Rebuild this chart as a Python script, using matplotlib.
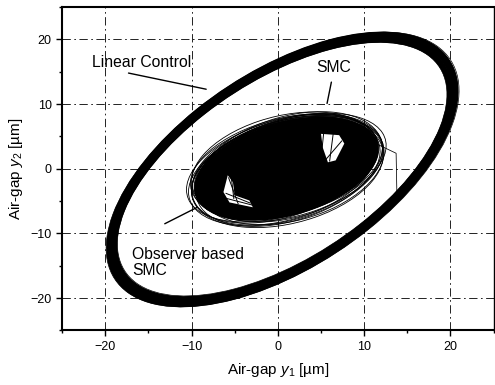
import matplotlib
matplotlib.use("Agg")
import matplotlib.pyplot as plt
from matplotlib.patches import Ellipse, Polygon
from matplotlib.ticker import MultipleLocator

plt.rcParams['font.family'] = ['Liberation Sans', 'DejaVu Sans']
plt.rcParams['mathtext.fontset'] = 'custom'
plt.rcParams['mathtext.rm'] = 'Liberation Sans'
plt.rcParams['mathtext.it'] = 'Liberation Sans:italic'
plt.rcParams['lines.scale_dashes'] = False

# axis ticks
x_ticks = [-20, -10, 0, 10, 20]
y_ticks = [-20, -10, 0, 10, 20]

# linear control: limit-cycle loops (centre, full width/height, rotation in deg)
lc_cx = [0.5, 0.5, 0.6, 0.5, 0.6, 0.5, 0.6, 0.5, 0.6, 0.5]
lc_cy = [-0.1, 0.0, -0.1, -0.2, -0.1, 0.0, -0.1, -0.2, -0.1, -0.1]
lc_w = [49.2, 49.5, 49.8, 50.1, 50.4, 50.7, 51.0, 51.3, 51.6, 51.9]
lc_h = [25.1, 25.3, 25.5, 25.7, 25.9, 26.1, 26.3, 26.5, 26.7, 26.9]
lc_ang = [46.4, 46.6, 46.5, 46.8, 46.6, 46.9, 46.7, 47.0, 46.8, 47.1]

# linear control: stray loops drawn thin
lc_thin_cx = [0.55, 0.5]
lc_thin_cy = [-0.1, -0.05]
lc_thin_w = [52.3, 48.8]
lc_thin_h = [27.2, 24.8]
lc_thin_ang = [46.9, 46.3]

# SMC / observer based SMC: dense core of the trajectory
core_cx, core_cy = 1.0, 0.0
core_w, core_h, core_ang = 22.6, 13.8, 26.0

# SMC / observer based SMC: individual outer loops
smc_cx = [1.0, 1.3, 0.7, 1.5, 0.8, 1.2, 0.5, 1.6, 1.0, 0.9, 1.4, 0.6, 1.1, 0.8]
smc_cy = [0.2, 0.0, -0.3, 0.4, 0.6, -0.5, 0.1, -0.2, 0.5, -0.4, 0.3, 0.0, -0.6, 0.4]
smc_w = [22.8, 23.2, 22.9, 23.6, 22.7, 23.0, 23.8, 22.8, 23.4, 24.0, 22.9, 23.1, 23.5, 22.9]
smc_h = [14.0, 14.3, 14.6, 14.1, 14.8, 14.4, 14.2, 15.0, 14.3, 14.6, 15.0, 14.1, 15.2, 14.0]
smc_ang = [26, 25, 28, 26, 24, 29, 27, 27, 23, 26, 28, 30, 25, 27]

# excursion of one SMC loop on the right side
exc_x = [11.2, 13.7, 13.8]
exc_y = [4.0, 2.4, -4.6]

# gaps inside the dense core
hole1_x = [5.0, 7.1, 7.7, 6.7, 5.8, 5.2]
hole1_y = [5.4, 5.2, 3.9, 1.3, 1.0, 3.3]
hole2_x = [-5.8, -5.2, -5.0, -3.3, -2.9, -5.6, -6.3]
hole2_y = [-1.0, -2.1, -4.1, -4.9, -5.95, -5.2, -3.6]

# trajectory strands crossing the gaps
strand_x = [[5.3, 5.0], [6.4, 6.0], [7.4, 5.6], [-5.7, -4.6], [-6.0, -3.2], [-5.4, -5.1], [-5.9, -3.0]]
strand_y = [[5.4, 1.6], [5.3, 1.2], [4.3, 1.5], [-1.4, -5.4], [-3.8, -5.3], [-1.2, -4.6], [-4.6, -5.6]]

fig = plt.figure(figsize=(4.95, 3.85), dpi=100)
ax = fig.add_axes([0.1253, 0.1416, 0.872, 0.840])

ax.set_xlim(-25, 25)
ax.set_ylim(-25, 25)
ax.set_xticks(x_ticks)
ax.set_yticks(y_ticks)
ax.xaxis.set_minor_locator(MultipleLocator(5))
ax.yaxis.set_minor_locator(MultipleLocator(5))
ax.tick_params(which='major', direction='out', length=4.5, width=1.0, labelsize=9, pad=3)
ax.tick_params(which='minor', direction='out', length=2.2, width=1.0)
ax.set_axisbelow(True)
ax.grid(True, which='major', color='#222222', linewidth=0.7,
        linestyle=(0, (6, 2.5, 1.2, 2.5)))

for side in ['left', 'bottom', 'top']:
    ax.spines[side].set_linewidth(1.5)
ax.spines['right'].set_linewidth(1.0)

# linear control limit cycle
for cx, cy, w, h, a in zip(lc_cx, lc_cy, lc_w, lc_h, lc_ang):
    ax.add_patch(Ellipse((cx, cy), w, h, angle=a, fill=False,
                         edgecolor='black', linewidth=2.0, zorder=3))
for cx, cy, w, h, a in zip(lc_thin_cx, lc_thin_cy, lc_thin_w, lc_thin_h, lc_thin_ang):
    ax.add_patch(Ellipse((cx, cy), w, h, angle=a, fill=False,
                         edgecolor='black', linewidth=0.5, zorder=3))

# SMC trajectories
ax.add_patch(Ellipse((core_cx, core_cy), core_w, core_h, angle=core_ang,
                     facecolor='black', edgecolor='black', linewidth=1.0, zorder=3))
for cx, cy, w, h, a in zip(smc_cx, smc_cy, smc_w, smc_h, smc_ang):
    ax.add_patch(Ellipse((cx, cy), w, h, angle=a, fill=False,
                         edgecolor='black', linewidth=0.6, zorder=3))
ax.plot(exc_x, exc_y, color='black', linewidth=0.55, zorder=3)

ax.add_patch(Polygon(list(zip(hole1_x, hole1_y)), closed=True,
                     facecolor='white', edgecolor='none', zorder=4))
ax.add_patch(Polygon(list(zip(hole2_x, hole2_y)), closed=True,
                     facecolor='white', edgecolor='none', zorder=4))
for sx, sy in zip(strand_x, strand_y):
    ax.plot(sx, sy, color='black', linewidth=0.7, zorder=5)

# labels with leader lines
lead = dict(arrowstyle='-', color='black', linewidth=1.0, shrinkA=0, shrinkB=0)
ax.text(-21.5, 16.5, 'Linear Control', fontsize=11.3, va='center', ha='left', zorder=6)
ax.annotate('', xy=(-8.3, 12.3), xytext=(-17.3, 14.8), arrowprops=lead, zorder=6)
ax.text(6.5, 15.6, 'SMC', fontsize=11.3, va='center', ha='center', zorder=6)
ax.annotate('', xy=(5.7, 10.1), xytext=(6.2, 13.4), arrowprops=lead, zorder=6)
ax.text(-16.9, -14.5, 'Observer based\nSMC', fontsize=11.3, va='center', ha='left',
        linespacing=1.15, zorder=6)
ax.annotate('', xy=(-9.4, -6.0), xytext=(-13.1, -8.5), arrowprops=lead, zorder=6)

ax.set_xlabel(r'Air-gap $y_1$ [µm]', fontsize=11, labelpad=6)
ax.set_ylabel(r'Air-gap $y_2$ [µm]', fontsize=11, labelpad=4)

fig.savefig('out.png', dpi=100)
